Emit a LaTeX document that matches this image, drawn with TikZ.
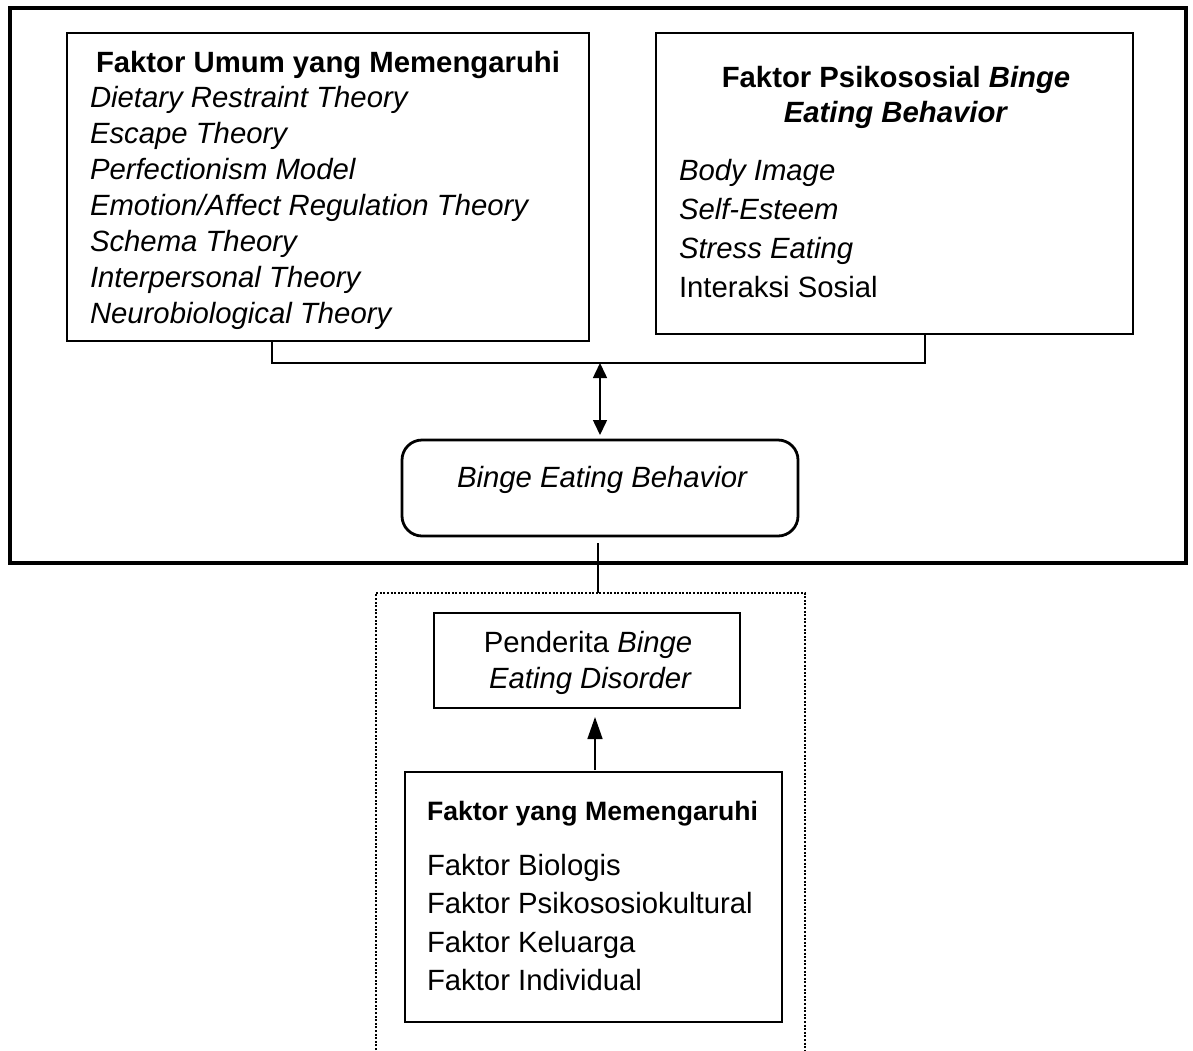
\documentclass[tikz,border=0pt]{standalone}
\usepackage{fontspec}
\setmainfont{Liberation Sans}
\usetikzlibrary{arrows.meta}
\tikzset{
  box/.style={draw, line width=0.8pt, inner sep=0pt, outer sep=0pt},
  txt/.style={anchor=base west, inner sep=0pt, outer sep=0pt, font=\fontsize{14.65}{17}\selectfont},
  ctxt/.style={txt, anchor=base},
  conn/.style={line width=0.75pt},
}
\begin{document}
\begin{tikzpicture}[x=0.5pt,y=-0.5pt]
\useasboundingbox (0,0) rectangle (1193,1050);
% outer frame
\node (O) [box, line width=2pt, minimum width=588pt, minimum height=277.5pt] at (598,285.5) {};
% left box
\node (L) [box, minimum width=261pt, minimum height=154pt] at (328,187) {};
\node (L0) [txt, font=\fontsize{14.65}{17}\selectfont\bfseries] at (96,72) {Faktor Umum yang Memengaruhi};
\node (L1) [txt] at (90,107) {\itshape Dietary Restraint Theory};
\node (L2) [txt] at (90,143) {\itshape Escape Theory};
\node (L3) [txt] at (90,179) {\itshape Perfectionism Model};
\node (L4) [txt] at (90,215) {\itshape Emotion/Affect Regulation Theory};
\node (L5) [txt] at (90,251) {\itshape Schema Theory};
\node (L6) [txt] at (90,287) {\itshape Interpersonal Theory};
\node (L7) [txt] at (90,323) {\itshape Neurobiological Theory};
% right box
\node (R) [box, minimum width=238.5pt, minimum height=150.5pt] at (894.5,183.5) {};
\node (R0) [ctxt, font=\fontsize{14.65}{17}\selectfont\bfseries] at (896,87) {Faktor Psikososial \textit{Binge}};
\node (R0b) [ctxt, font=\fontsize{14.65}{17}\selectfont\bfseries] at (896,122) {\textit{Eating Behavior}};
\node (R1) [txt] at (679,180) {\itshape Body Image};
\node (R2) [txt] at (679,219) {\itshape Self-Esteem};
\node (R3) [txt] at (679,258) {\itshape Stress Eating};
\node (R4) [txt] at (679,297) {Interaksi Sosial};
% binge eating behavior
\node (B) [box, line width=1.4pt, rounded corners=10pt, minimum width=198pt, minimum height=48pt] at (600,488) {};
\node (Bt) [ctxt] at (602,487) {\itshape Binge Eating Behavior};
% penderita
\node (P) [box, minimum width=153pt, minimum height=47.5pt] at (587,660.5) {};
\node (P1) [ctxt] at (588,652) {Penderita \textit{Binge}};
\node (P2) [ctxt] at (590,688) {\itshape Eating Disorder};
% faktor yang memengaruhi
\node (F) [box, minimum width=188.5pt, minimum height=125pt] at (593.5,897) {};
\node (F0) [txt, font=\fontsize{13.3}{16}\selectfont\bfseries] at (427,820) {Faktor yang Memengaruhi};
\node (F1) [txt] at (427,875) {Faktor Biologis};
\node (F2) [txt] at (427,913) {Faktor Psikososiokultural};
\node (F3) [txt] at (427,952) {Faktor Keluarga};
\node (F4) [txt] at (427,990) {Faktor Individual};
% dotted frame (open at bottom)
\coordinate (d1) at (376,1050);
\coordinate (d2) at (376,593);
\coordinate (d3) at (805,593);
\coordinate (d4) at (805,1050);
\draw[line width=1.2pt, dash pattern=on 1pt off 0.8pt] (d1) -- (d2) -- (d3) -- (d4);
% bracket
\coordinate (bl) at (272,363);
\coordinate (br) at (925,363);
\coordinate (bm) at (600,363);
\draw[conn] (L.south -| bl) -- (bl) -- (br) -- (R.south -| br);
% double arrow
\draw[conn, {Triangle[length=7.5pt,width=7pt]}-{Triangle[length=7.5pt,width=7pt]}, shorten >=2.5pt] (bm) -- (B.north -| bm);
% line to dotted frame
\coordinate (dt) at (598,593);
\draw[line width=1.3pt] ([yshift=-3.5pt]B.south -| dt) -- (dt);
% arrow up
\coordinate (ax) at (595,700);
\draw[conn, -{Triangle[length=11pt,width=7.5pt]}] ([yshift=1pt]F.north -| ax) -- ([yshift=-4.5pt]P.south -| ax);
\end{tikzpicture}
\end{document}
